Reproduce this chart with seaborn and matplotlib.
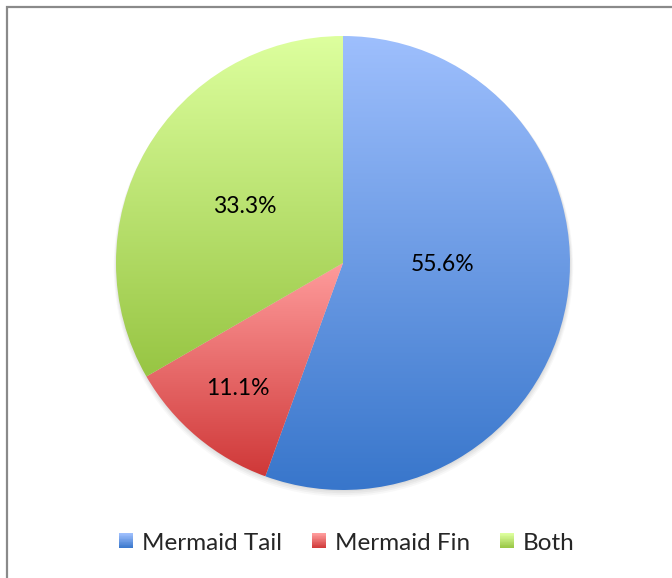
import numpy as np
import matplotlib
matplotlib.use("Agg")
import matplotlib.pyplot as plt
import seaborn as sns
from matplotlib.patches import Patch, Rectangle, Circle
from matplotlib.legend_handler import HandlerBase
from matplotlib.colors import to_rgb

# Survey answers
categories = ["Mermaid Tail", "Mermaid Fin", "Both"]
counts = [5, 1, 3]
pct_labels = ["55.6%", "11.1%", "33.3%"]

# Two-tone fills (top colour, bottom colour) for each slice
gradients = [("#9EBFFD", "#3876CB"),
             ("#FF9C9C", "#CF3838"),
             ("#DDFF9E", "#97C543")]
label_radius = [0.44, 0.72, 0.50]
label_turn = [9, 0, 0]

sns.set_theme(style="white")
plt.rcParams["font.family"] = ["Lato", "DejaVu Sans"]

W, H, DPI = 672, 578, 100
fig = plt.figure(figsize=(W / DPI, H / DPI), dpi=DPI)
ax = fig.add_axes([0, 0, 1, 1])

R_PX = 227.0
cx, cy = 343.0, 263.0


def ramp(top, bottom, n=256):
    t = np.linspace(0, 1, n)[:, None]
    a, b = np.array(to_rgb(top)), np.array(to_rgb(bottom))
    return (a * (1 - t) + b * t)[:, None, :]


# soft drop shadow under the pie
for k, al in enumerate([0.06, 0.06, 0.05, 0.04]):
    ax.add_patch(Circle((0.002, -0.006 - 0.004 * k), 1.0 + 0.004 * k,
                        facecolor="#555555", edgecolor="none", alpha=al, zorder=0))

wedges, _ = ax.pie(counts, startangle=90, counterclock=False, radius=1.0,
                   center=(0, 0), wedgeprops=dict(linewidth=0),
                   frame=True)
ax.set_xlim(-cx / R_PX, (W - cx) / R_PX)
ax.set_ylim(-(H - cy) / R_PX, cy / R_PX)
ax.axis("off")

for w, (top, bottom), txt, rr, turn in zip(wedges, gradients, pct_labels,
                                            label_radius, label_turn):
    w.set_facecolor("none")
    ext = w.get_path().get_extents(w.get_patch_transform())
    im = ax.imshow(ramp(top, bottom), extent=[ext.x0, ext.x1, ext.y0, ext.y1],
                   origin="upper", aspect="auto", interpolation="bilinear",
                   zorder=1)
    im.set_clip_path(w)
    mid = np.deg2rad((w.theta1 + w.theta2) / 2 + turn)
    ax.text(rr * np.cos(mid), rr * np.sin(mid), txt, ha="center", va="center",
            fontsize=16.5, color="black", zorder=3)


class GradientPatch(Patch):
    def __init__(self, top, bottom, **kw):
        super().__init__(**kw)
        self.top, self.bottom = top, bottom


class GradientHandler(HandlerBase):
    def create_artists(self, legend, orig, xdescent, ydescent, width, height,
                       fontsize, trans):
        n = 20
        a, b = np.array(to_rgb(orig.top)), np.array(to_rgb(orig.bottom))
        arts = []
        for i in range(n):
            c = a * (1 - i / (n - 1)) + b * (i / (n - 1))
            y = -ydescent + height * (1 - (i + 1) / n)
            arts.append(Rectangle((-xdescent, y), width, height / n * 1.05,
                                  facecolor=c, edgecolor="none", transform=trans))
        return arts


handles = [GradientPatch(t, b, label=c) for (t, b), c in zip(gradients, categories)]
fig.legend(handles=handles, loc="center", bbox_to_anchor=(347 / W, 1 - 543 / H),
           ncol=3, frameon=False, fontsize=17.5, handlelength=0.58,
           handleheight=0.58, handletextpad=0.37, columnspacing=1.23,
           handler_map={GradientPatch: GradientHandler()})

# outer chart frame
fig.patches.append(Rectangle((7 / W, -0.05), 1.2, (H - 7) / H + 0.05,
                             transform=fig.transFigure, fill=False,
                             edgecolor="#8A8A8A", linewidth=1.6))

fig.savefig("out.png", dpi=DPI)
